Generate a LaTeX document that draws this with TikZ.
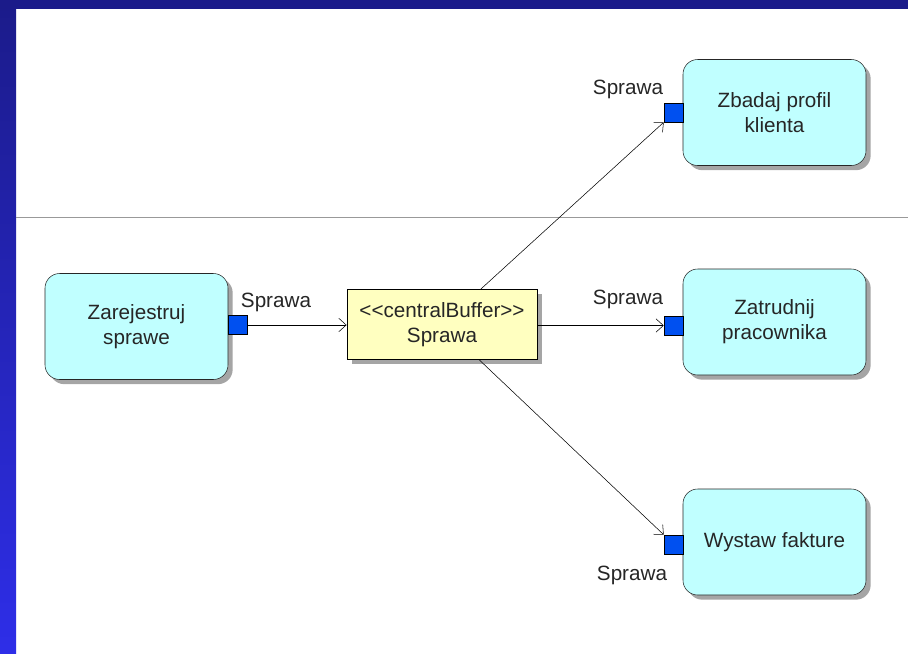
\documentclass[tikz,border=0pt]{standalone}
\usepackage{fontspec}
\setmainfont{Liberation Sans}
\usetikzlibrary{arrows.meta}
\usetikzlibrary{shadows}
\definecolor{ramka}{HTML}{1B1B8A}
\definecolor{ramkadol}{HTML}{2E2EE8}
\definecolor{akcja}{HTML}{C0FFFF}
\definecolor{bufor}{HTML}{FFFFC0}
\definecolor{pinblue}{HTML}{0050F0}
\tikzset{%
	action/.style={shape=rectangle,draw=black!85,thin,fill=akcja,rounded corners=11pt,minimum width=137.25pt,minimum height=79.5pt,align=center,drop shadow={shadow xshift=3.5pt,shadow yshift=-3.5pt,opacity=0.7}},
	buffer/.style={shape=rectangle,draw=black,semithick,fill=bufor,minimum width=142.5pt,minimum height=52.5pt,align=center,drop shadow={shadow xshift=3.5pt,shadow yshift=-3.5pt,opacity=0.7}},
	pinbox/.style={shape=rectangle,draw=black,thin,fill=pinblue,minimum size=14.25pt,inner sep=0pt},
	pinlabel/.style={inner sep=0pt},
	flow/.style={-{Straight Barb[length=5.5pt,width=10pt]},thin},
}

\begin{document}
\begin{tikzpicture}[x=0.75pt,y=-0.75pt,font=\fontsize{15.5}{18.75}\selectfont,text=black!85]
	\useasboundingbox (0,0) rectangle (908,654);
	
	%RAMKA
	\fill[white] (0,0) rectangle (908,654);
	\shade[top color=ramka, bottom color=ramkadol] (0,0) rectangle (16,654);
	\fill[ramka] (0,0) rectangle (908,9);
	\draw[black!40] (16,217) -- (908,217); %tor
	
	%AKCJE
	\node[action] (zarejestruj) at (136.5,326.5) {Zarejestruj\\sprawe};
	\node[action] (zbadaj) at (774.5,112.5) {Zbadaj profil\\klienta};
	\node[action] (zatrudnij) at (774.5,322) {Zatrudnij\\pracownika};
	\node[action] (wystaw) at (774.5,542) {Wystaw fakture};
	
	%BUFOR
	\node[buffer] (bufor) at (442,324.5) {<\kern0pt<centralBuffer>\kern0pt>\\Sprawa};
	
	%PINY
	\node[pinbox] (pzar) at (237.5,325) {};
	\node[pinbox] (pzba) at (673.5,112.5) {};
	\node[pinbox] (pzat) at (673.5,325.5) {};
	\node[pinbox] (pwys) at (673.5,544.5) {};
	\node[pinlabel] (lzar) at (276,302) {Sprawa};
	\node[pinlabel] (lzba) at (628,89) {Sprawa};
	\node[pinlabel] (lzat) at (628,299) {Sprawa};
	\node[pinlabel] (lwys) at (632,575) {Sprawa};
	
	%PRZEPLYWY
	\draw[flow] (pzar.east) -- (pzar.east -| bufor.west);
	\draw[flow] (bufor) -- (pzba.south west);
	\draw[flow] (bufor.east |- pzat.west) -- (pzat.west);
	\draw[flow] (bufor) -- (pwys.north west);
\end{tikzpicture}
\end{document}
